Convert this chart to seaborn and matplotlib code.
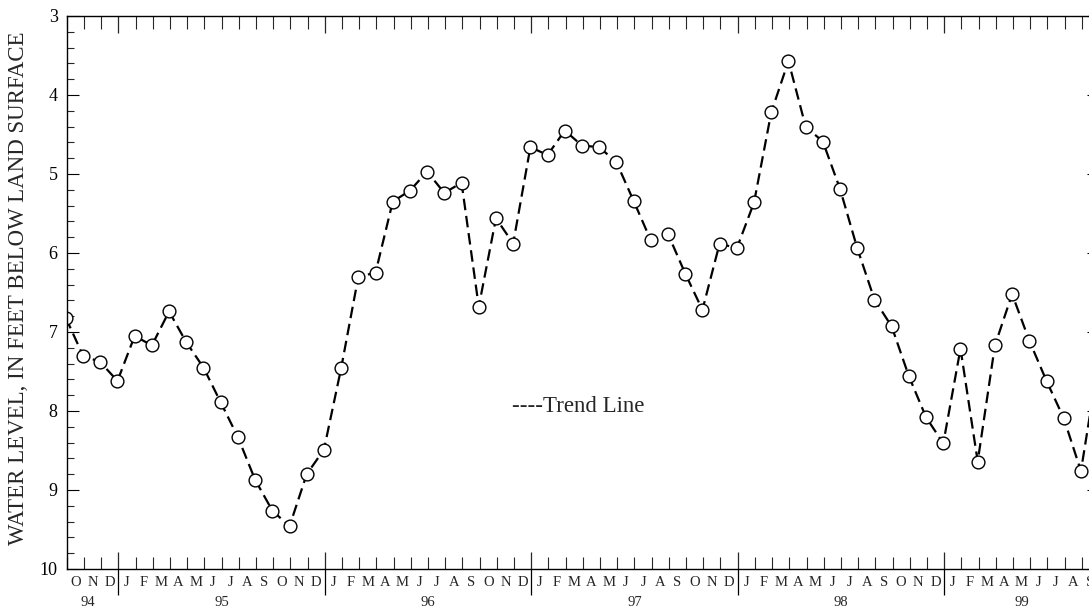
import numpy as np
import pandas as pd
import matplotlib
matplotlib.use("Agg")
import matplotlib.pyplot as plt
import seaborn as sns

# Monthly water-level measurements, Sep 1994 through Sep 1999
start_month = "1994-09"
end_month = "1999-09"
water_level_ft = [
    6.82, 7.30, 7.38, 7.62,                                            # 1994 S-D
    7.05, 7.17, 6.74, 7.13, 7.45, 7.89, 8.33, 8.87, 9.26, 9.46, 8.80, 8.49,  # 1995
    7.46, 6.30, 6.25, 5.35, 5.21, 4.97, 5.24, 5.11, 6.68, 5.56, 5.88, 4.66,  # 1996
    4.76, 4.45, 4.64, 4.66, 4.85, 5.34, 5.84, 5.76, 6.26, 6.72, 5.88, 5.94,  # 1997
    5.36, 4.22, 3.57, 4.40, 4.59, 5.19, 5.94, 6.59, 6.93, 7.56, 8.08, 8.41,  # 1998
    7.21, 8.64, 7.17, 6.52, 7.11, 7.62, 8.09, 8.76, 7.40,              # 1999 J-S
]
month_letters = ["J", "F", "M", "A", "M", "J", "J", "A", "S", "O", "N", "D"]
year_labels = ["94", "95", "96", "97", "98", "99"]
y_ticks = [3, 4, 5, 6, 7, 8, 9, 10]
ylabel_text = "WATER LEVEL, IN FEET BELOW LAND SURFACE"
note_text = "----Trend Line"

# Time axis measured in months from 1 Oct 1994; readings sit near month end
axis_start = pd.Period("1994-10", freq="M")
periods = pd.period_range(start_month, end_month, freq="M")
month_idx = np.array([(p - axis_start).n for p in periods], dtype=float)
df = pd.DataFrame({"month": month_idx + 0.95, "level": water_level_ft})

n_months = 60  # Oct 1994 .. Sep 1999

sns.set_style("white")
plt.rcParams["font.family"] = ["Liberation Serif", "DejaVu Serif"]

W, H = 1089, 607
fig = plt.figure(figsize=(W / 100, H / 100), dpi=100)
left_px, right_px, top_px, bottom_px = 66.7, 1099.0, 16.0, 569.0
ax = fig.add_axes([left_px / W, 1 - bottom_px / H,
                   (right_px - left_px) / W, (bottom_px - top_px) / H])

sns.lineplot(data=df, x="month", y="level", ax=ax, color="black",
             linewidth=1.6, marker="o", markersize=9.2,
             markerfacecolor="white", markeredgecolor="black",
             markeredgewidth=1.0, clip_on=True)
ax.lines[0].set_dashes((5.2, 2.6))

ax.set_xlim(0, n_months)
ax.set_ylim(10, 3)
ax.set_xlabel("")
ax.set_ylabel("")

for sp in ax.spines.values():
    sp.set_linewidth(1.0)
    sp.set_color("black")

# Y axis ticks: integer majors with 0.2 minors on both sides
ax.set_yticks(y_ticks)
ax.set_yticklabels([str(v) for v in y_ticks], fontsize=13)
ax.set_yticks(np.arange(3, 10.001, 0.2), minor=True)
ax.tick_params(axis="y", which="major", direction="in", length=8.5, width=0.8,
               left=True, right=True, pad=6.5, colors="black")
ax.tick_params(axis="y", which="minor", direction="in", length=5, width=0.8,
               left=True, right=True)

# X axis: month boundary ticks, longer ticks at year boundaries
year_bounds = [b for b in range(0, n_months + 1) if (b - 3) % 12 == 0]
month_bounds = [b for b in range(0, n_months + 1) if b not in year_bounds]
ax.set_xticks(year_bounds)
ax.set_xticks(month_bounds, minor=True)
ax.set_xticklabels([])
ax.tick_params(axis="x", which="major", direction="in", length=12.5, width=0.9,
               bottom=True, top=True)
ax.tick_params(axis="x", which="minor", direction="in", length=9, width=0.8,
               bottom=True, top=True)

xtrans = ax.get_xaxis_transform()
# Year separators continue below the axis through the month row
px_to_ax = 1.0 / (bottom_px - top_px)
ax.vlines(year_bounds, -26 * px_to_ax, 0, transform=xtrans, color="black",
          linewidth=0.9, clip_on=False)

# Month initials centered in each month
for m in range(n_months):
    cal_month = (9 + m) % 12
    ax.text(m + 0.5, -14 * px_to_ax, month_letters[cal_month], transform=xtrans,
            ha="center", va="center", fontsize=10.5, clip_on=False)

# Year labels centered over the shown months of each year
edges = [0] + year_bounds + [n_months]
for lab, a, b in zip(year_labels, edges[:-1], edges[1:]):
    ax.text((a + b) / 2 - (0.3 if lab == "94" else 0), -33 * px_to_ax, lab,
            transform=xtrans, ha="center", va="center", fontsize=10.5,
            clip_on=False)

ax.text(0.4953, 0.2935, note_text, transform=ax.transAxes, ha="center",
        va="center", fontsize=16.5)

fig.text(19 / W, 1 - 288 / H, ylabel_text, rotation=90, ha="center",
         va="center", fontsize=16.5)

fig.savefig("out.png", dpi=100, facecolor="white")
